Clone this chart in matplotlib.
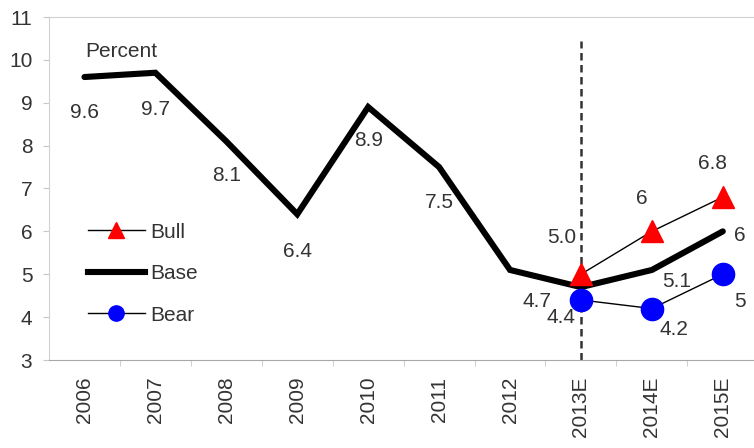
import matplotlib
matplotlib.use("Agg")
import matplotlib.pyplot as plt
from matplotlib.lines import Line2D
import numpy as np

plt.rcParams['font.family'] = ['Liberation Sans', 'DejaVu Sans']

categories = ["2006", "2007", "2008", "2009", "2010", "2011", "2012", "2013E", "2014E", "2015E"]
base = [9.6, 9.7, 8.1, 6.4, 8.9, 7.5, 5.1, 4.7, 5.1, 6.0]
bull_cats = ["2013E", "2014E", "2015E"]
bull = [5.0, 6.0, 6.8]
bear = [4.4, 4.2, 5.0]
base_labels = ["9.6", "9.7", "8.1", "6.4", "8.9", "7.5", None, "4.7", "5.1", "6"]
bull_labels = ["5.0", "6", "6.8"]
bear_labels = ["4.4", "4.2", "5"]

txt = '#333333'
fs = 15
fig = plt.figure(figsize=(7.54, 4.48), dpi=100)
ax = fig.add_axes([49/754, 1 - 360/448, (754 - 49)/754, (360 - 17)/448])

x = np.arange(len(categories))
ix = [categories.index(c) for c in bull_cats]

ax.axvline(categories.index("2013E"), ymin=0, ymax=0.93, color='#333333', lw=1.8,
           ls=(0, (3.0, 1.8)), zorder=1)
ax.plot(x, base, color='black', lw=4.4, solid_capstyle='round', solid_joinstyle='miter', zorder=3)
ax.plot(ix, bull, color='black', lw=1.0, marker='^', ms=16, mfc='#ff0000', mec='#ff0000', zorder=4)
ax.plot(ix, bear, color='black', lw=1.0, marker='o', ms=16, mfc='#0000ff', mec='#0000ff', zorder=4)

# offsets in pixels: (dx right, dy down)
base_off = [(0, 35), (0, 37), (0, 34), (0, 37), (0, 33), (0, 35), None, (-44, 14), (25, 12), (17, 4)]
bull_off = [(-19, -37), (-10, -33), (-10, -34)]
bear_off = [(-20, 18), (22, 21), (17, 27)]

def put(xs, ys, labs, offs):
    for xi, v, lab, off in zip(xs, ys, labs, offs):
        if lab is None:
            continue
        ax.annotate(lab, (xi, v), xytext=(off[0] / 1.389, -off[1] / 1.389), textcoords='offset points',
                    ha='center', va='center', fontsize=fs, color=txt)

put(x, base, base_labels, base_off)
put(ix, bull, bull_labels, bull_off)
put(ix, bear, bear_labels, bear_off)

ax.text(0.051, 0.898, "Percent", transform=ax.transAxes, fontsize=fs, color=txt, ha='left', va='center')

ax.set_ylim(3, 11)
ax.set_yticks(range(3, 12))
ax.set_xlim(-0.5, 9.44)
ax.set_xticks(x)
ax.set_xticklabels(categories, rotation=90)
ax.set_xticks(np.arange(0.5, 9.5, 1), minor=True)
ax.tick_params(axis='x', which='major', length=0, pad=12, labelsize=fs, labelcolor=txt)
ax.tick_params(axis='x', which='minor', length=4, color='#c8c8c8', direction='out')
ax.tick_params(axis='y', length=4, color='#c8c8c8', labelsize=fs, labelcolor=txt, pad=8)

for s in ['left', 'top']:
    ax.spines[s].set_color('#d0d0d0')
ax.spines['bottom'].set_color('#a8a8a8')
ax.spines['right'].set_visible(False)

handles = [
    Line2D([], [], color='black', lw=1.0, marker='^', ms=11, mfc='#ff0000', mec='#ff0000'),
    Line2D([], [], color='black', lw=4.4),
    Line2D([], [], color='black', lw=1.0, marker='o', ms=11, mfc='#0000ff', mec='#0000ff'),
]
leg = ax.legend(handles, ["Bull", "Base", "Bear"], loc='center left', bbox_to_anchor=(0.055, 0.252),
                frameon=False, fontsize=fs, handlelength=2.75, handletextpad=0.25, labelspacing=1.08,
                borderpad=0, borderaxespad=0)
for t in leg.get_texts():
    t.set_color(txt)

fig.savefig("out.png", dpi=100)
